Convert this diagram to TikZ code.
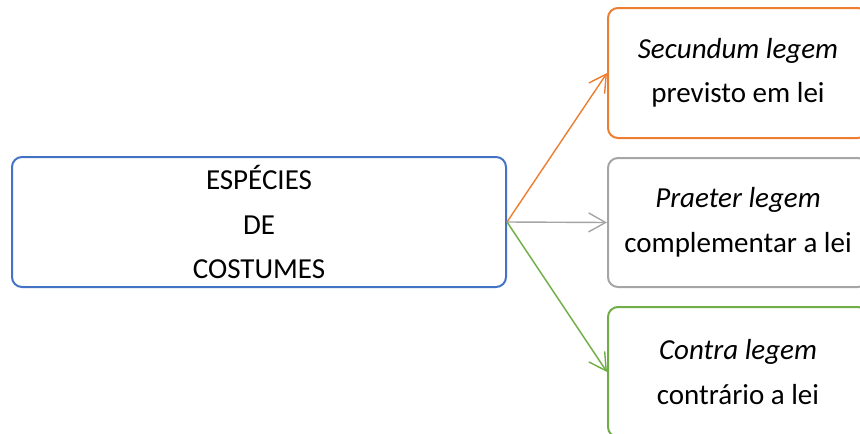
\documentclass[tikz,border=0pt]{standalone}
\usepackage{fontspec}
\setmainfont{Carlito}
\usepackage{tikz}
\usetikzlibrary{arrows.meta,positioning}
\definecolor{blu}{HTML}{4472C4}
\definecolor{orn}{HTML}{ED7D31}
\definecolor{gry}{HTML}{A5A5A5}
\definecolor{grn}{HTML}{70AD47}
\begin{document}
\begin{tikzpicture}[x=1pt, y=-1pt, arr/.style={line width=1.4pt, -{Straight Barb[length=17pt,width=19pt,line width=1.4pt]}}]
\tikzstyle{box}=[rectangle, rounded corners=10pt, line width=2pt, align=center, inner sep=0pt, font=\fontsize{29}{44.5}\selectfont]
\useasboundingbox (0,0) rectangle (860,434);
\node[box, draw=blu, minimum width=494pt, minimum height=130pt] (E) at (259,222) {ESPÉCIES\\DE\\COSTUMES};
\node[box, draw=orn, minimum width=260pt, minimum height=130pt] (S) at (738,73) {\textit{Secundum legem}\\previsto em lei};
\node[box, draw=gry, minimum width=260pt, minimum height=129pt] (P) at (738,222.5) {\textit{Praeter legem}\\complementar a lei};
\node[box, draw=grn, minimum width=260pt, minimum height=130pt] (C) at (738,372) {\textit{Contra legem}\\contrário a lei};
\foreach \t/\c in {S/orn,P/gry,C/grn}{\draw[arr, \c] (E.east) -- (\t.west);}
\end{tikzpicture}
\end{document}
